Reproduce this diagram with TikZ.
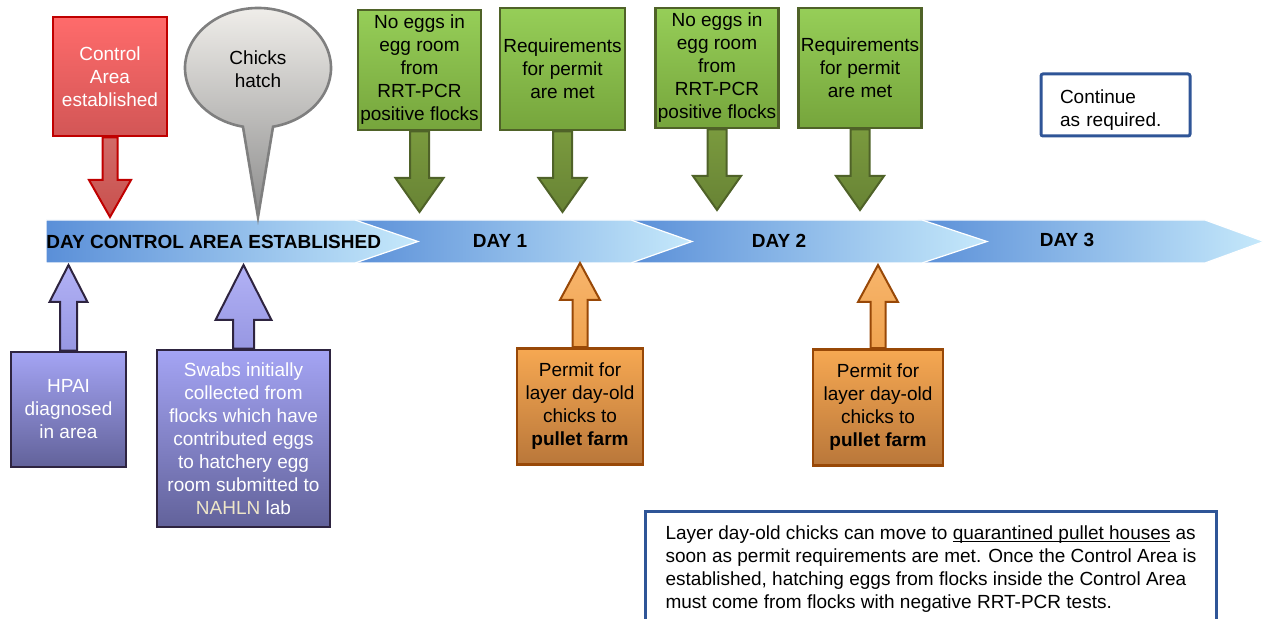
\documentclass[tikz,border=0pt]{standalone}
\usepackage{fontspec}
\setmainfont{Liberation Sans}
\usetikzlibrary{calc,backgrounds}

\definecolor{lineDark}{HTML}{5A8FD8}
\definecolor{lineLight}{HTML}{C6E9FB}
\definecolor{redTop}{HTML}{FF6B6B}
\definecolor{redBot}{HTML}{D25656}
\definecolor{redEdge}{HTML}{C00000}
\definecolor{redArrow}{HTML}{C9504D}
\definecolor{greyTop}{HTML}{F2F0EC}
\definecolor{greyBot}{HTML}{8C8C8C}
\definecolor{greyEdge}{HTML}{7F7F7F}
\definecolor{greenTop}{HTML}{96CE58}
\definecolor{greenBot}{HTML}{76A53C}
\definecolor{greenEdge}{HTML}{4F6228}
\definecolor{greenArrow}{HTML}{7A9A3E}
\definecolor{purpleTop}{HTML}{A4A4F4}
\definecolor{purpleBot}{HTML}{62629A}
\definecolor{purpleEdge}{HTML}{2E2440}
\definecolor{orangeTop}{HTML}{F6A852}
\definecolor{orangeBot}{HTML}{B9773A}
\definecolor{orangeEdge}{HTML}{984807}
\definecolor{noteEdge}{HTML}{2F5597}

\newcommand\lowline[1]{\setbox0\hbox{#1}\rlap{\rule[-1.2pt]{\wd0}{0.45pt}}\box0\relax}

\newcommand\callout[6]{%
  \path[#1] let \p1=(#2), \p2=(#3) in
    ({\x2-#4},\y1) -- ({\x2-#4},{\y2+(#6)}) -- ({\x2-#5},{\y2+(#6)}) -- (\x2,\y2)
    -- ({\x2+#5},{\y2+(#6)}) -- ({\x2+#4},{\y2+(#6)}) -- ({\x2+#4},\y1) -- cycle;}

\begin{document}
\begin{tikzpicture}[x=0.5pt,y=-0.5pt,
    txt/.style={font=\fontsize{9.5}{11.5}\selectfont},
    box/.style={txt,rectangle,line width=1.3pt,align=center,inner sep=0pt},
    redbox/.style={box,draw=redEdge,top color=redTop,bottom color=redBot,text=white},
    greenbox/.style={box,draw=greenEdge,top color=greenTop,bottom color=greenBot,minimum width=61.5pt,minimum height=60pt},
    purplebox/.style={box,draw=purpleEdge,top color=purpleTop,bottom color=purpleBot,text=white},
    orangebox/.style={box,draw=orangeEdge,top color=orangeTop,bottom color=orangeBot,minimum height=58pt},
    linebox/.style={txt,rectangle,draw=noteEdge,line width=1.5pt,rounded corners=1pt,align=left},
    redarrow/.style={draw=redEdge,line width=1pt,top color=redArrow!85!white,bottom color=redArrow},
    greenarrow/.style={draw=greenEdge,line width=1pt,top color=greenArrow,bottom color=greenArrow!85!black},
    purplearrow/.style={draw=purpleEdge,line width=1pt,top color=purpleTop!85!white,bottom color=purpleTop!80!purpleBot},
    orangearrow/.style={draw=orangeEdge,line width=1pt,top color=orangeTop!85!white,bottom color=orangeTop!90!orangeBot},
    bubble/.style={draw=greyEdge,line width=1.3pt,top color=greyTop,bottom color=greyBot},
    segment/.style={draw=white,line width=0.6pt,left color=lineDark,right color=lineLight},
    daylabel/.style={font=\fontsize{9.5}{11.5}\selectfont\bfseries}]

  \useasboundingbox (0,0) rectangle (1264,619);

  \node[redbox,minimum width=57pt,minimum height=59.5pt] (ca) at (110,76.5) {Control\\Area\\established};
  \node[txt,align=center] (hatch) at (258,69) {Chicks\\hatch};
  \node[greenbox] (eggsA) at (419.5,70) {No eggs in\\egg room\\from\\RRT-PCR\\positive flocks};
  \node[greenbox,minimum width=62.5pt,minimum height=61pt] (permA) at (562.5,69) {Requirements\\for permit\\are met};
  \node[greenbox] (eggsB) at (717,68) {No eggs in\\egg room\\from\\RRT-PCR\\positive flocks};
  \node[greenbox] (permB) at (860,68) {Requirements\\for permit\\are met};
  \node[linebox,minimum width=74.5pt,minimum height=31pt,text width=55.5pt,inner sep=0pt,text height=12pt] (cont) at (1115.5,105) {Continue\\as required.};

  \node[purplebox,minimum width=57.5pt,minimum height=57.5pt] (hpai) at (68.5,409.5) {HPAI\\diagnosed\\in area};
  \node[purplebox,minimum width=86.5pt,minimum height=88.5pt] (swabs) at (243.5,438.5) {Swabs initially\\collected from\\flocks which have\\contributed eggs\\to hatchery egg\\room submitted to\\{\color[HTML]{EEE6C8}NAHLN} lab};
  \node[orangebox,minimum width=63pt] (pullA) at (580,406.5) {Permit for\\layer day-old\\chicks to\\\textbf{pullet farm}};
  \node[orangebox,minimum width=65pt] (pullB) at (878,407.5) {Permit for\\layer day-old\\chicks to\\\textbf{pullet farm}};

  \node[linebox,rounded corners=0pt,anchor=north west,minimum width=285.5pt,text depth=50pt,inner xsep=9pt,inner ysep=7pt] (note) at (644,510)
    {Layer day-old chicks can move to \lowline{quarantined pullet houses} as\\soon as permit requirements are met. Once the Control Area is\\established, hatching eggs from flocks inside the Control Area\\must come from flocks with negative RRT-PCR tests.};

  \coordinate (caTip) at (110,217);
  \coordinate (hatchTip) at (258,217);
  \coordinate (eggsTipA) at (419.5,212);
  \coordinate (permTipA) at (562.5,212);
  \coordinate (eggsTipB) at (717,210);
  \coordinate (permTipB) at (860,210);
  \coordinate (hpaiTip) at (68.5,265);
  \coordinate (swabsTip) at (243.5,265);
  \coordinate (pullTipA) at (580,263);
  \coordinate (pullTipB) at (878,265);

  \begin{scope}[on background layer]
    \foreach \a/\b/\c in {918/1205/1264, 630/922/987, 350/631/692, 46/355/418}
      \path[segment] (\a,220) -- (\b,220) -- (\c,241.5) -- (\b,263) -- (\a,263) -- cycle;

    \path[bubble] (hatch.center) ++(0,-1) ++(78.1:73 and 60)
      arc[start angle=78.1,end angle=-258.1,x radius=73,y radius=60] -- (hatchTip) -- cycle;

    \callout{redarrow}{ca.south}{caTip}{3.75pt}{10.5pt}{18.5pt}
    \callout{greenarrow}{eggsA.south}{eggsTipA}{4.75pt}{12pt}{17pt}
    \callout{greenarrow}{permA.south}{permTipA}{4.75pt}{12pt}{17pt}
    \callout{greenarrow}{eggsB.south}{eggsTipB}{4.75pt}{12pt}{17pt}
    \callout{greenarrow}{permB.south}{permTipB}{4.75pt}{12pt}{17pt}
    \callout{purplearrow}{hpai.north}{hpaiTip}{4.25pt}{9.5pt}{-18.5pt}
    \callout{purplearrow}{swabs.north}{swabsTip}{5.25pt}{14pt}{-27.5pt}
    \callout{orangearrow}{pullA.north}{pullTipA}{3.75pt}{10pt}{-18.5pt}
    \callout{orangearrow}{pullB.north}{pullTipB}{3.75pt}{10pt}{-18.5pt}
  \end{scope}

  \node[daylabel,anchor=west,inner sep=0pt] (day0) at (46,242) {DAY CONTROL AREA ESTABLISHED};
  \node[daylabel] (day1) at (500,241) {DAY 1};
  \node[daylabel] (day2) at (779,241) {DAY 2};
  \node[daylabel] (day3) at (1067,240) {DAY 3};
\end{tikzpicture}
\end{document}
